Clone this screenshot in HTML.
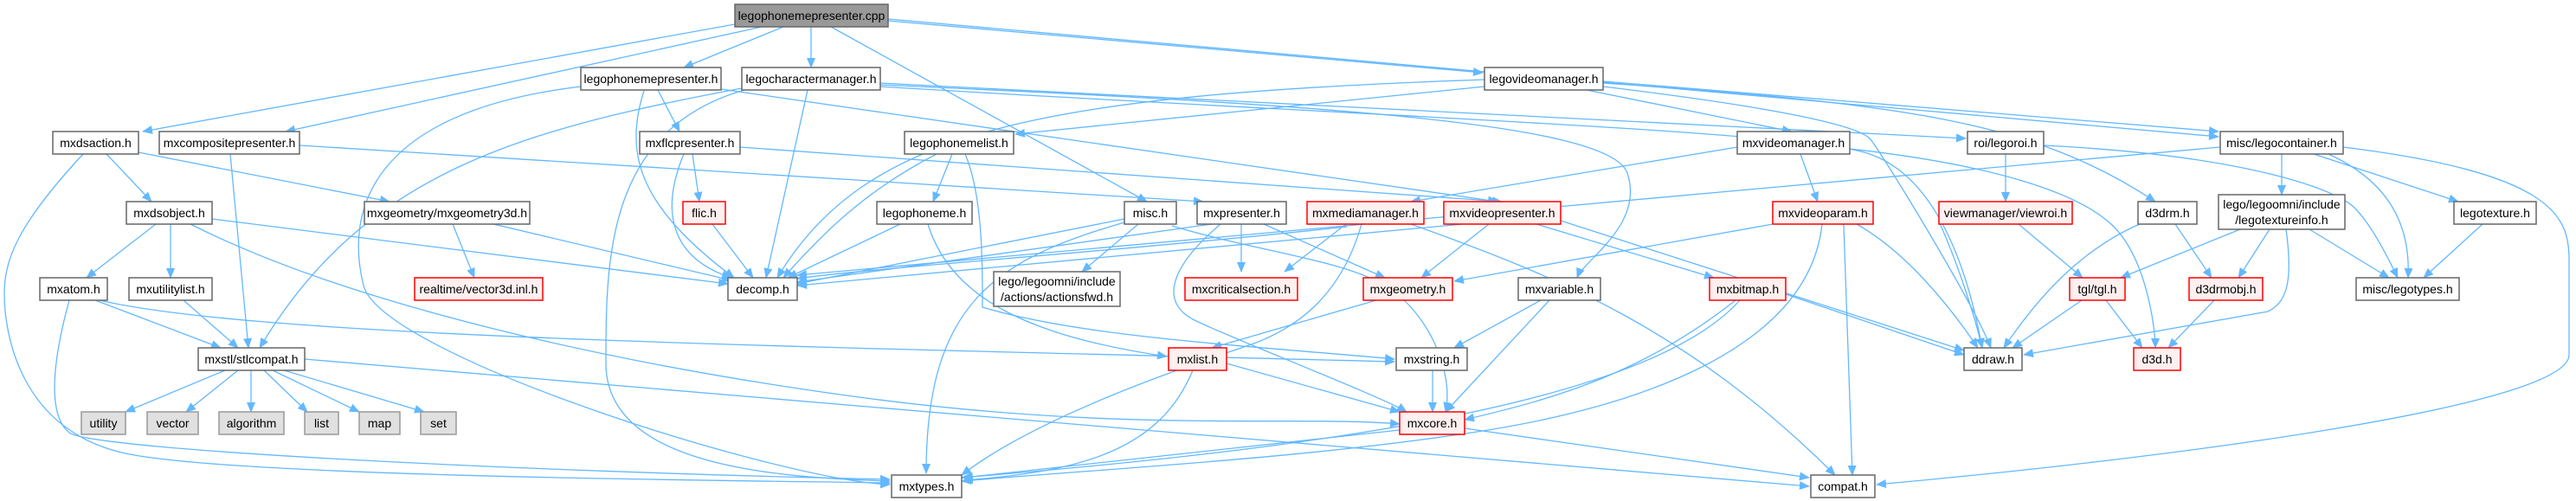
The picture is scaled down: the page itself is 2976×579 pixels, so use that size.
<!DOCTYPE html>
<html><head><meta charset="utf-8">
<style>
html,body{margin:0;padding:0;background:#fff;}
svg{display:block;}
text{font-family:"Liberation Sans",Helvetica,Arial,sans-serif;font-size:14px;fill:#000;}
</style></head>
<body>
<svg xmlns="http://www.w3.org/2000/svg" width="2976" height="579" viewBox="0 0 2976 579">
<defs>
<marker id="a" markerUnits="userSpaceOnUse" markerWidth="12" markerHeight="10" refX="11" refY="5" orient="auto">
<path d="M0,0 L12,5 L0,10 Z" fill="#63b8ff"/>
</marker>
</defs>
<g id="edges" fill="none" stroke="#63b8ff" stroke-width="1.3" marker-end="url(#a)">
<!-- cpp -->
<path d="M849,28 L165,152"/>
<path d="M880,31 L330,152"/>
<path d="M905,31 L790,78"/>
<path d="M937,31 L937,78"/>
<path d="M960,31 L1325,233"/>
<path d="M1026,24 L1713,84"/>
<path d="M1026,22 L2563,158"/>
<!-- legophonemepresenter.h -->
<path d="M760,104 L785,152"/>
<path d="M671,100 C420,130 400,250 420,330 S900,555 1028,560"/>
<path d="M744,105 C720,180 740,240 848,321"/>
<path d="M833,103 L1730,233"/>
<!-- legocharactermanager -->
<path d="M933,104 L885,321"/>
<path d="M860,104 C700,150 700,300 700,420 S900,552 1028,556"/>
<path d="M857,102 C600,150 420,200 300,402"/>
<path d="M1017,96 L2271,160"/>
<path d="M1017,98 C1500,120 1860,140 1880,200 S1830,300 1822,321"/>
<path d="M1017,100 C1500,130 2050,150 2150,175 S2280,350 2290,402"/>
<!-- legovideomanager -->
<path d="M1715,100 L1173,155"/>
<path d="M1715,92 C1200,110 1000,150 898,321"/>
<path d="M1833,104 L2070,152"/>
<path d="M1852,100 C2100,130 2150,150 2160,160 S2280,350 2300,402"/>
<path d="M1852,96 C2200,120 2350,140 2490,233"/>
<path d="M1852,94 L2563,152"/>
<!-- mxdsaction -->
<path d="M123,178 L175,233"/>
<path d="M160,176 L450,233"/>
<path d="M96,178 C20,260 5,300 5,340 S20,500 150,525 S800,555 1028,558"/>
<!-- mxcompositepresenter -->
<path d="M266,178 L287,402"/>
<path d="M346,168 L1390,233"/>
<!-- mxflcpresenter -->
<path d="M800,178 L808,233"/>
<path d="M790,178 C760,250 780,300 845,321"/>
<path d="M855,170 L1735,233"/>
<!-- legophonemelist -->
<path d="M1100,178 L1078,233"/>
<path d="M1082,178 C1000,220 950,270 905,321"/>
<path d="M1115,178 C1135,225 1135,300 1135,355 C1250,390 1450,400 1611,415"/>
<!-- legophoneme -->
<path d="M1040,259 L910,321"/>
<path d="M1072,259 C1100,350 1200,390 1348,412"/>
<!-- misc.h -->
<path d="M1299,253 L921,328"/>
<path d="M1315,259 L1250,314"/>
<path d="M1299,257 C1150,300 1070,350 1070,547"/>
<path d="M1354,261 C1450,290 1550,300 1600,330 S1680,430 1670,476"/>
<!-- mxpresenter -->
<path d="M1434,259 L1434,314"/>
<path d="M1400,259 L921,326"/>
<path d="M1460,259 L1600,321"/>
<path d="M1410,259 C1350,310 1340,350 1380,370 S1600,460 1625,476"/>
<!-- mxmediamanager -->
<path d="M1555,259 L1484,314"/>
<path d="M1573,259 C1550,340 1500,380 1440,400 S1200,480 1111,549"/>
<path d="M1630,259 C1800,320 1950,380 2120,549"/>
<path d="M1556,262 C1300,290 1000,310 921,322"/>
<!-- mxvideopresenter -->
<path d="M1720,259 L1642,321"/>
<path d="M1775,259 L1980,321"/>
<path d="M1803,255 L2269,405"/>
<path d="M1690,259 L921,330"/>
<!-- mxvideomanager -->
<path d="M2080,178 L2100,233"/>
<path d="M2007,170 L1630,233"/>
<path d="M2137,172 C2300,190 2400,222 2440,260 S2490,380 2490,402"/>
<!-- legocontainer -->
<path d="M2565,170 L921,318"/>
<!-- mxvideoparam -->
<path d="M2130,259 L2140,549"/>
<path d="M2145,259 C2200,290 2250,350 2285,402"/>
<path d="M2048,259 L1680,325"/>
<path d="M2105,259 C2090,400 1900,470 1700,500 S1300,540 1111,556"/>
<!-- mxgeometry -->
<path d="M1590,347 L1400,402"/>
<!-- mxvariable -->
<path d="M1780,347 L1680,402"/>
<path d="M1790,347 L1670,476"/>
<!-- mxbitmap -->
<path d="M2005,347 C1900,430 1800,460 1692,485"/>
<path d="M2010,347 C1900,470 1500,520 1111,552"/>
<path d="M2063,340 L2269,410"/>
<!-- mxstring -->
<path d="M1655,428 L1655,476"/>
<!-- mxlist -->
<path d="M1417,420 L1617,476"/>
<path d="M1378,428 C1340,520 1250,545 1113,555"/>
<!-- mxcore -->
<path d="M1617,497 L1113,552"/>
<path d="M1692,495 L2090,552"/>
<!-- stlcompat -->
<path d="M260,428 L145,476"/>
<path d="M275,428 L215,476"/>
<path d="M290,428 L290,476"/>
<path d="M305,428 L355,476"/>
<path d="M315,428 L415,476"/>
<path d="M328,428 L490,476"/>
<path d="M352,415 L2090,562"/>
<!-- mxdsobject -->
<path d="M180,259 L100,321"/>
<path d="M197,259 L197,321"/>
<path d="M245,253 L841,328"/>
<path d="M220,259 C400,350 700,420 1000,460 S1500,480 1617,490"/>
<!-- mxatom -->
<path d="M110,347 L255,402"/>
<path d="M115,347 C300,390 900,400 1611,418"/>
<path d="M80,347 C60,420 55,480 80,500 S600,545 1028,554"/>
<!-- mxutilitylist -->
<path d="M212,347 L275,402"/>
<!-- mxgeometry3d -->
<path d="M523,259 L548,321"/>
<path d="M570,259 L845,324"/>
<!-- flic -->
<path d="M823,259 L870,321"/>
<!-- roi/legoroi -->
<path d="M2317,178 L2317,233"/>
<path d="M2361,168 C2600,180 2700,220 2720,240 S2760,300 2770,321"/>
<!-- legocontainer -->
<path d="M2636,178 L2636,225"/>
<path d="M2673,178 L2840,233"/>
<path d="M2690,178 C2760,210 2785,260 2782,321"/>
<path d="M2707,170 C2950,200 2968,250 2968,300 L2968,410 C2968,470 2500,530 2168,560"/>
<!-- viewroi -->
<path d="M2332,259 L2406,321"/>
<path d="M2240,256 C2260,300 2280,360 2290,402"/>
<!-- legotextureinfo -->
<path d="M2588,265 L2450,321"/>
<path d="M2622,265 L2586,321"/>
<path d="M2668,265 L2760,321"/>
<path d="M2641,265 C2650,330 2640,350 2620,360 L2338,410"/>
<!-- d3drm -->
<path d="M2472,259 C2400,290 2350,350 2315,402"/>
<path d="M2513,259 L2555,321"/>
<!-- tgl -->
<path d="M2405,347 L2325,402"/>
<path d="M2433,347 L2475,402"/>
<!-- d3drmobj -->
<path d="M2558,347 L2505,402"/>
<!-- legotexture -->
<path d="M2868,259 L2800,321"/>
</g>
<g id="nodes" stroke-width="1.5"></g>
</svg>
<script>
var N=[
["legophonemepresenter.cpp",849,1026,5,26,"root"],
["legophonemepresenter.h",671,833,78,26],
["legocharactermanager.h",857,1017,78,26],
["legovideomanager.h",1715,1852,78,26],
["mxdsaction.h",61,160,152,26],
["mxcompositepresenter.h",184,346,152,26],
["mxflcpresenter.h",739,855,152,26],
["legophonemelist.h",1045,1171,152,26],
["mxvideomanager.h",2007,2137,152,26],
["roi/legoroi.h",2273,2361,152,26],
["misc/legocontainer.h",2565,2707,152,26],
["mxdsobject.h",146,245,233,26],
["mxgeometry/mxgeometry3d.h",421,612,233,26],
["flic.h",789,838,233,26,"red"],
["legophoneme.h",1013,1123,233,26],
["misc.h",1299,1359,233,26],
["mxpresenter.h",1383,1486,233,26],
["mxmediamanager.h",1510,1645,233,26,"red"],
["mxvideopresenter.h",1668,1803,233,26,"red"],
["mxvideoparam.h",2048,2164,233,26,"red"],
["viewmanager/viewroi.h",2240,2394,233,26,"red"],
["d3drm.h",2470,2538,233,26],
["lego/legoomni/include|/legotextureinfo.h",2563,2709,225,40],
["legotexture.h",2835,2930,233,26],
["mxatom.h",46,124,321,26],
["mxutilitylist.h",149,245,321,26],
["realtime/vector3d.inl.h",479,627,321,26,"red"],
["decomp.h",841,921,321,26],
["lego/legoomni/include|/actions/actionsfwd.h",1148,1294,314,40],
["mxcriticalsection.h",1369,1499,321,26,"red"],
["mxgeometry.h",1575,1678,321,26,"red"],
["mxvariable.h",1754,1849,321,26],
["mxbitmap.h",1975,2063,321,26,"red"],
["tgl/tgl.h",2391,2455,321,26,"red"],
["d3drmobj.h",2529,2614,321,26,"red"],
["misc/legotypes.h",2722,2841,321,26],
["mxstl/stlcompat.h",229,352,402,26],
["mxlist.h",1350,1417,402,26,"red"],
["mxstring.h",1613,1695,402,26],
["ddraw.h",2269,2336,402,26],
["d3d.h",2465,2519,402,26,"red"],
["utility",94,145,476,26,"gray"],
["vector",170,229,476,26,"gray"],
["algorithm",253,328,476,26,"gray"],
["list",352,391,476,26,"gray"],
["map",415,462,476,26,"gray"],
["set",486,527,476,26,"gray"],
["mxcore.h",1617,1692,476,26,"red"],
["mxtypes.h",1030,1111,549,26],
["compat.h",2092,2166,549,26]
];
var g=document.getElementById("nodes"),s="";
N.forEach(function(n){
 var fill="#fff",st="#666";
 if(n[5]=="root"){fill="#999";st="#666";}
 if(n[5]=="red"){fill="#fff0f0";st="#f00";}
 if(n[5]=="gray"){fill="#e0e0e0";st="#999";}
 s+='<rect x="'+n[1]+'" y="'+n[3]+'" width="'+(n[2]-n[1])+'" height="'+n[4]+'" fill="'+fill+'" stroke="'+st+'"/>';
 var cx=(n[1]+n[2])/2,L=n[0].split("|");
 if(L.length==1){s+='<text x="'+cx+'" y="'+(n[3]+n[4]/2+5)+'" text-anchor="middle" stroke="none">'+L[0]+'</text>';}
 else{s+='<text x="'+cx+'" y="'+(n[3]+16)+'" text-anchor="middle" stroke="none">'+L[0]+'</text><text x="'+cx+'" y="'+(n[3]+34)+'" text-anchor="middle" stroke="none">'+L[1]+'</text>';}
});
g.innerHTML=s;
</script>
</body></html>
